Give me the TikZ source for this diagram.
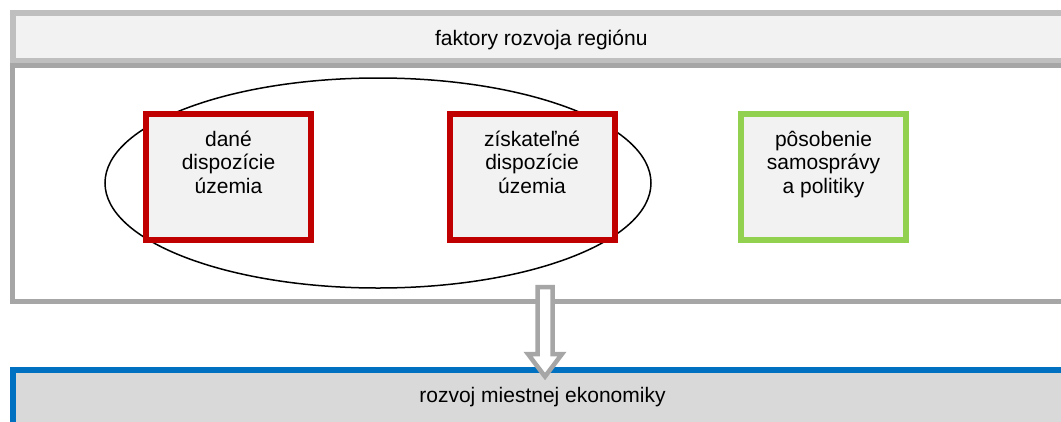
\documentclass[tikz,border=0pt]{standalone}
\usepackage{fontspec}
\setmainfont{Liberation Sans}
\usetikzlibrary{shapes.geometric}
\definecolor{hdrline}{HTML}{BFBFBF}
\definecolor{hdrfill}{HTML}{F2F2F2}
\definecolor{frameline}{HTML}{A6A6A6}
\definecolor{redline}{HTML}{C00000}
\definecolor{greenline}{HTML}{92D050}
\definecolor{blueline}{HTML}{0070C0}
\definecolor{botfill}{HTML}{D9D9D9}
\begin{document}
\begin{tikzpicture}[x=1pt,y=-1pt,
  every node/.style={outer sep=0pt, inner sep=0pt},
  bigtext/.style={font=\fontsize{21}{23.5}\selectfont, anchor=base, align=center},
  hdrbox/.style={draw=hdrline, fill=hdrfill, line width=6pt, rectangle, anchor=north west},
  framebox/.style={draw=frameline, fill=white, line width=5pt, rectangle, anchor=north west},
  botbox/.style={draw=blueline, fill=botfill, line width=6pt, rectangle, anchor=north west},
  factor/.style={rectangle, fill=hdrfill, line width=6pt, minimum width=165pt, minimum height=126pt},
  redbox/.style={factor, draw=redline},
  greenbox/.style={factor, draw=greenline},
  blockarrow/.style={draw=frameline, fill=white, line width=4.5pt, line join=miter}
]
\useasboundingbox (0,0) rectangle (1061,421);
\clip (0,0) rectangle (1061,421);
% header
\node[hdrbox, minimum width=1057.5pt, minimum height=48pt] (hdr) at (12.5,13) {};
\node[bigtext] (hdrtext) at (541.25,45) {faktory rozvoja regiónu};
% frame
\node[framebox, minimum width=1057.5pt, minimum height=236pt] (frame) at (12.5,65.5) {};
% ellipse grouping
\node[draw=black, line width=1.5pt, ellipse, minimum width=546pt, minimum height=210pt] (grp) at (378,183) {};
% factor boxes
\node[redbox] (b1) at (228.5,177) {};
\node[bigtext] (b1t) at (228.5,193) {dané\\dispozície\\územia};
\node[redbox] (b2) at (532,177) {};
\node[bigtext] (b2t) at (532,193) {získateľné\\dispozície\\územia};
\node[greenbox] (b3) at (823.5,177) {};
\node[bigtext] (b3t) at (823.5,193) {pôsobenie\\samosprávy\\a politiky};
% bottom box
\node[botbox, minimum width=1062pt, minimum height=80pt] (bot) at (13,370) {};
\node[bigtext] (bottext) at (542.5,402) {rozvoj miestnej ekonomiky};
% block arrow from frame to bottom box
\coordinate (atop) at (545,287);
\coordinate (atip) at (545,376.5);
\draw[blockarrow] ([xshift=-7.5pt]atop) -- ([xshift=7.5pt]atop) -- ([xshift=7.5pt,yshift=-67pt]atop)
  -- ([xshift=17pt,yshift=-67pt]atop) -- (atip) -- ([xshift=-17pt,yshift=-67pt]atop)
  -- ([xshift=-7.5pt,yshift=-67pt]atop) -- cycle;
\end{tikzpicture}
\end{document}
